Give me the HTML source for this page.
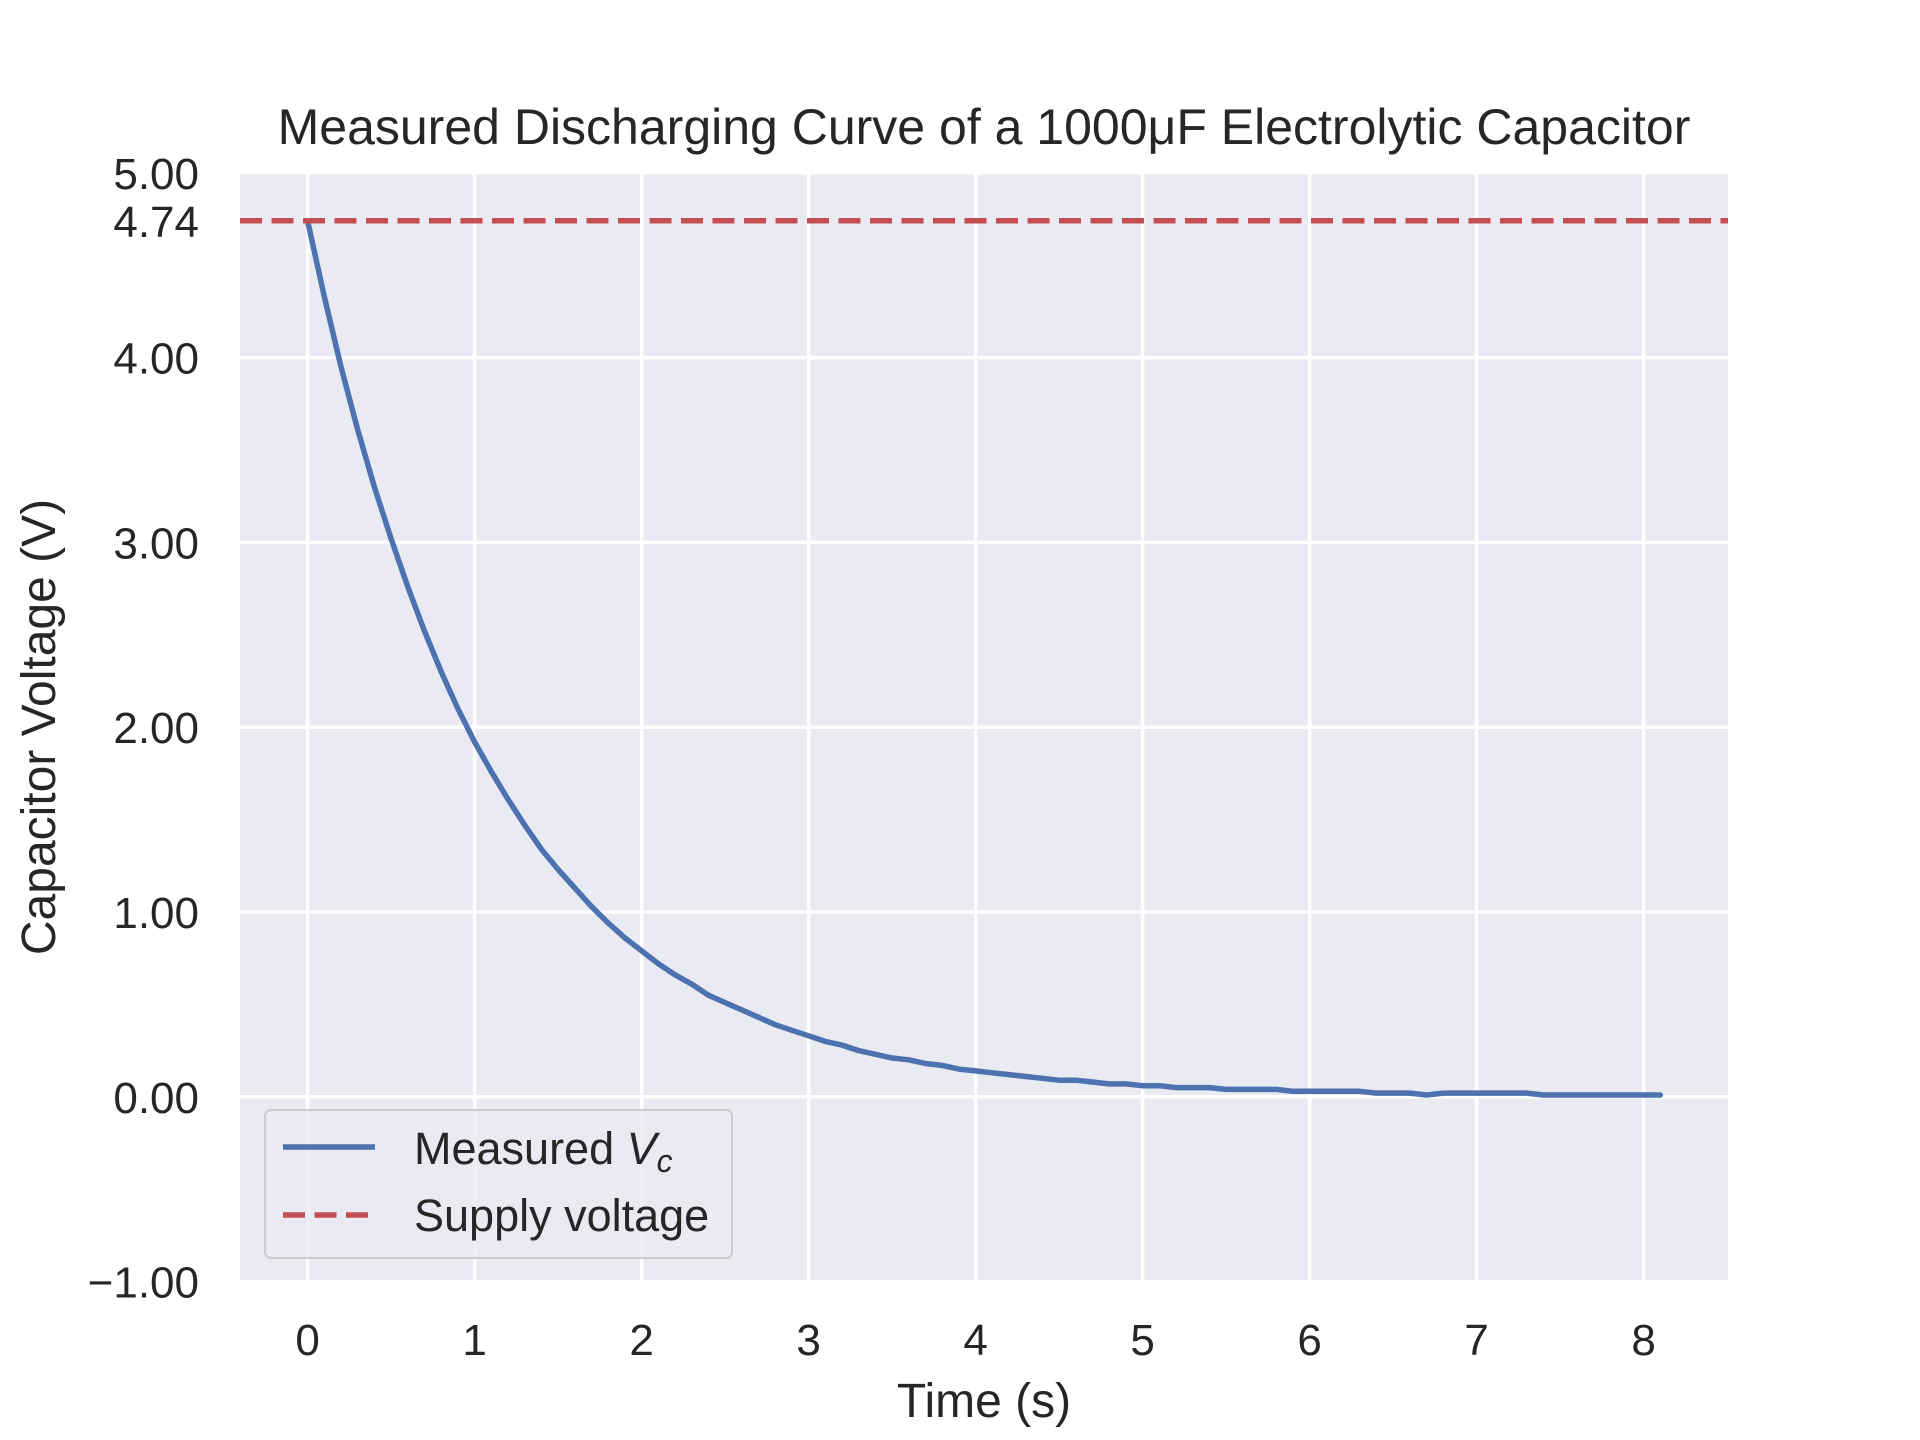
<!DOCTYPE html>
<html><head><meta charset="utf-8"><style>
html,body{margin:0;padding:0;background:#fff;}
svg{display:block;}
text{font-family:"Liberation Sans","DejaVu Sans",sans-serif;fill:#262626;}
</style></head><body>
<svg id="s" width="1920" height="1440" viewBox="0 0 1920 1440" xmlns="http://www.w3.org/2000/svg">
<rect x="240" y="172.8" width="1488" height="1108.8" fill="#eaeaf2"/>
<g id="grid" stroke="#fff" stroke-width="3.5"></g>
<g id="ticks" font-size="44"></g>
<path id="curve" fill="none" stroke="#4c72b0" stroke-width="5.5" stroke-linejoin="round" stroke-linecap="round"/>
<line x1="240" y1="220.8" x2="1728" y2="220.8" stroke="#c44e52" stroke-width="5.5" stroke-dasharray="22,9.5"/>
<text x="984" y="144" font-size="50" text-anchor="middle">Measured Discharging Curve of a 1000μF Electrolytic Capacitor</text>
<text x="984" y="1417" font-size="48" text-anchor="middle">Time (s)</text>
<text transform="translate(55,727) rotate(-90)" font-size="48" text-anchor="middle">Capacitor Voltage (V)</text>
<rect x="265" y="1110" width="467" height="148" rx="6" fill="#eaeaf2" stroke="#cccccc" stroke-width="2" fill-opacity="0.8"/>
<line x1="283" y1="1147" x2="375" y2="1147" stroke="#4c72b0" stroke-width="5.5"/>
<line x1="283" y1="1215" x2="375" y2="1215" stroke="#c44e52" stroke-width="5.5" stroke-dasharray="22,9.5"/>
<text x="414" y="1164" font-size="45">Measured <tspan font-style="italic">V</tspan><tspan font-style="italic" font-size="32" dy="8">c</tspan></text>
<text x="414" y="1231" font-size="45">Supply voltage</text>
</svg>
<script>
var NS="http://www.w3.org/2000/svg";
function X(t){return 307.6+t*167.0;}
function Y(v){return 172.8+(5-v)*184.8;}
var g=document.getElementById('grid'),tk=document.getElementById('ticks');
function el(p,tag,a,txt){var e=document.createElementNS(NS,tag);for(var k in a)e.setAttribute(k,a[k]);if(txt!==undefined)e.textContent=txt;p.appendChild(e);return e;}
for(var i=0;i<=8;i++){el(g,'line',{x1:X(i),x2:X(i),y1:172.8,y2:1281.6});el(tk,'text',{x:X(i),y:1355,'text-anchor':'middle'},String(i));}
var yt=[-1,0,1,2,3,4,5];
yt.forEach(function(v){el(g,'line',{x1:240,x2:1728,y1:Y(v),y2:Y(v)});el(tk,'text',{x:199,y:Y(v)+16,'text-anchor':'end'},(v<0?'\u22121.00':v.toFixed(2)));});
el(tk,'text',{x:199,y:Y(4.74)+16,'text-anchor':'end'},'4.74');
var d='';
for(var k=0;k<=81;k++){var t=k/10;var v=Math.round((4.74*Math.exp(-t/1.1)+0.03*Math.exp(-t/6)*Math.min(1,t/2))*100)/100;
if(k==67||k==77)v-=0.01;if(v<0.01)v=0.01; if(k==0)v=4.74;
d+=(k?'L':'M')+X(t).toFixed(1)+','+Y(v).toFixed(1);}
document.getElementById('curve').setAttribute('d',d);
</script>
</body></html>
